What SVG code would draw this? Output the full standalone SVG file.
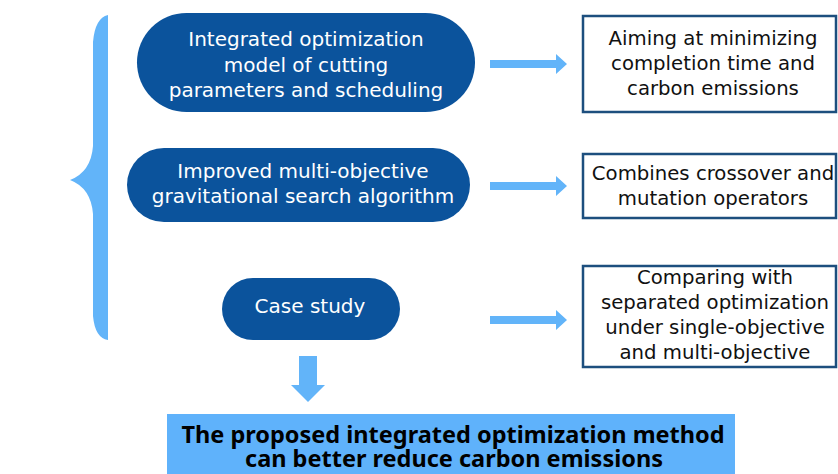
<svg xmlns="http://www.w3.org/2000/svg" width="838" height="474" viewBox="0 0 838 474">
<defs>
<style>
.pill{fill:#0b539c}
.pt{fill:#ffffff;font-family:"DejaVu Sans","Noto Sans",sans-serif;font-size:20px;text-anchor:middle}
.box{fill:#ffffff;stroke:#1d4f7e;stroke-width:2.5}
.bt{fill:#111111;font-family:"DejaVu Sans","Noto Sans",sans-serif;font-size:19.7px;text-anchor:middle}
.arr{fill:#62b4f9}
.res{fill:#5fb2fb}
.rt{fill:#000000;font-family:"Noto Sans","Open Sans",sans-serif;font-size:23.5px;font-weight:bold;text-anchor:middle}
</style>
</defs>
<rect width="838" height="474" fill="#ffffff"/>
<g id="brace">
<path class="arr" d="M108,15 L108,340 Q95,338 93,316 L93,214 Q91,188 70,180 Q91,172 93,146 L93,42 Q95,18 108,15 Z"/>
</g>
<g id="node-model">
<rect class="pill" x="137" y="13" width="338" height="99" rx="49.5"/>
<text class="pt"><tspan x="306" y="46">Integrated optimization</tspan><tspan x="306" y="72">model of cutting</tspan><tspan x="306" y="97">parameters and scheduling</tspan></text>
</g>
<g id="node-algorithm">
<rect class="pill" x="127" y="148" width="343" height="74" rx="37"/>
<text class="pt"><tspan x="303" y="178">Improved multi-objective</tspan><tspan x="303" y="203">gravitational search algorithm</tspan></text>
</g>
<g id="node-case">
<rect class="pill" x="222" y="278" width="178" height="62" rx="31"/>
<text class="pt" x="310" y="313">Case study</text>
</g>
<g id="node-aim">
<rect class="box" x="583" y="16" width="253" height="96"/>
<text class="bt"><tspan x="713" y="45">Aiming at minimizing</tspan><tspan x="713" y="70">completion time and</tspan><tspan x="713" y="95">carbon emissions</tspan></text>
</g>
<g id="node-combine">
<rect class="box" x="583" y="154" width="253" height="64"/>
<text class="bt"><tspan x="713" y="180">Combines crossover and</tspan><tspan x="713" y="205">mutation operators</tspan></text>
</g>
<g id="node-compare">
<rect class="box" x="583" y="266" width="253" height="101"/>
<text class="bt"><tspan x="715" y="284">Comparing with</tspan><tspan x="715" y="309">separated optimization</tspan><tspan x="715" y="334">under single-objective</tspan><tspan x="715" y="359">and multi-objective</tspan></text>
</g>
<g id="node-result">
<rect class="res" x="167" y="414" width="568" height="62"/>
<text class="rt"><tspan x="453" y="443">The proposed integrated optimization method</tspan><tspan x="454" y="467">can better reduce carbon emissions</tspan></text>
</g>
<g id="connectors">
<path class="arr" d="M490,60 L556,60 L556,54 L567,64 L556,74 L556,68 L490,68 Z"/>
<path class="arr" d="M490,182 L556,182 L556,176 L567,186 L556,196 L556,190 L490,190 Z"/>
<path class="arr" d="M490,316 L556,316 L556,310 L567,320 L556,330 L556,324 L490,324 Z"/>
<path class="arr" d="M299,356 L317,356 L317,385 L325,385 L308,402 L291,385 L299,385 Z"/>
</g>
</svg>
